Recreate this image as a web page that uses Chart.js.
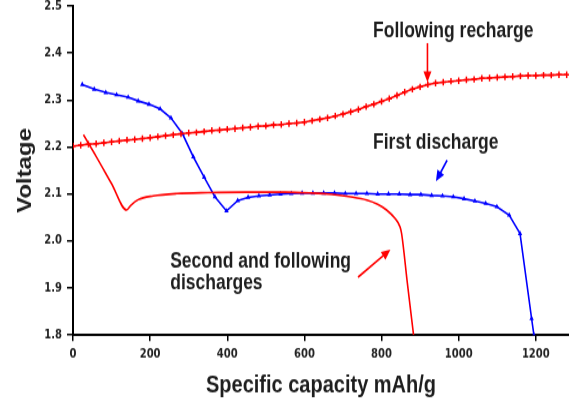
<!DOCTYPE html>
<html>
<head>
<meta charset="utf-8">
<script src="https://cdn.jsdelivr.net/npm/chart.js@4.4.1/dist/chart.umd.min.js"></script>
<style>
    html, body { margin: 0; padding: 0; background: #fff; overflow: hidden; }
    /* the source picture is stretched vertically, so the chart is drawn flat and scaled */
    #wrap { position: absolute; left: 0; top: 0; width: 569px; height: 333px; transform: scaleY(1.2); transform-origin: 0 0; }
</style>
</head>
<body>
<div id="wrap"><canvas id="capacityChart"></canvas></div>
<script>
// --- DATA ---
const xTicks = [0, 200, 400, 600, 800, 1000, 1200];
const yTicks = [1.8, 1.9, 2.0, 2.1, 2.2, 2.3, 2.4, 2.5];

// First discharge (blue)
const firstX = [24, 55, 85, 113, 143, 169, 197, 226, 254, 284, 312, 340, 368, 398, 427, 454, 482, 510, 538, 566,
    594, 622, 650, 678, 706, 734, 762, 790, 818, 846, 874, 902, 930, 958, 986, 1014, 1042, 1070, 1099, 1131,
    1159, 1189, 1195];
const firstY = [2.333, 2.323, 2.316, 2.311, 2.306, 2.298, 2.291, 2.281, 2.262, 2.228, 2.179, 2.136, 2.094, 2.064, 2.086, 2.093, 2.096, 2.098, 2.100, 2.101,
    2.102, 2.102, 2.102, 2.102, 2.101, 2.101, 2.101, 2.100, 2.100, 2.100, 2.099, 2.099, 2.097, 2.096, 2.094, 2.090, 2.085, 2.080, 2.073, 2.055,
    2.016, 1.835, 1.800];

// Following recharge (red, crosses)
const rechargeX = [0, 20, 40, 60, 80, 100, 120, 140, 160, 180, 200, 220, 240, 260, 280, 300, 320, 340, 360, 380,
    400, 420, 440, 460, 480, 500, 520, 540, 560, 580, 600, 620, 640, 660, 680, 700, 720, 740, 760, 780,
    800, 820, 840, 860, 880, 900, 920, 940, 960, 980, 1000, 1020, 1040, 1060, 1080, 1100, 1120, 1140, 1160, 1180,
    1200, 1220, 1240, 1260, 1280];
const rechargeY = [2.202, 2.204, 2.206, 2.207, 2.209, 2.211, 2.213, 2.215, 2.216, 2.218, 2.220, 2.222, 2.224, 2.226, 2.228, 2.230, 2.231, 2.233, 2.235, 2.236,
    2.238, 2.239, 2.241, 2.242, 2.244, 2.245, 2.247, 2.248, 2.250, 2.251, 2.253, 2.256, 2.259, 2.262, 2.266, 2.270, 2.275, 2.280, 2.286, 2.291,
    2.297, 2.303, 2.310, 2.317, 2.323, 2.328, 2.333, 2.336, 2.338, 2.340, 2.341, 2.343, 2.344, 2.346, 2.347, 2.348, 2.349, 2.350, 2.351, 2.352,
    2.352, 2.353, 2.353, 2.354, 2.354];

// Second and following discharges (red, plain line)
const secondX = [27, 60, 100, 139, 150, 169, 208, 269, 350, 450, 550, 618, 673, 720, 762, 790, 813, 835, 848, 852, 867, 883];
const secondY = [2.226, 2.180, 2.122, 2.066, 2.076, 2.088, 2.096, 2.101, 2.103, 2.104, 2.104, 2.102, 2.099, 2.094, 2.087, 2.078, 2.066, 2.048, 2.030, 2.016, 1.910, 1.800];

// --- ANNOTATIONS (in data units) ---
const notes = [
    { text: 'Following recharge', x: 778, y: 2.445 },
    { text: 'First discharge', x: 778, y: 2.209 },
    { text: 'Second and following', x: 252, y: 1.955 },
    { text: 'discharges', x: 252, y: 1.911 }
];
const arrows = [
    { color: '#ff0000', x1: 919, y1: 2.421, x2: 919, y2: 2.338 },
    { color: '#0000ff', x1: 970, y1: 2.172, x2: 941, y2: 2.127 },
    { color: '#ff0000', x1: 739, y1: 1.923, x2: 823, y2: 1.982 }
];

const toPoints = (xs, ys) => xs.map((x, i) => ({ x: x, y: ys[i] }));

function drawArrow(ctx, x1, y1, x2, y2, color) {
    const ang = Math.atan2(y2 - y1, x2 - x1);
    const len = 9, half = 4;
    ctx.strokeStyle = color;
    ctx.fillStyle = color;
    ctx.lineWidth = 1.6;
    ctx.beginPath();
    ctx.moveTo(x1, y1);
    ctx.lineTo(x2 - Math.cos(ang) * len * 0.8, y2 - Math.sin(ang) * len * 0.8);
    ctx.stroke();
    ctx.beginPath();
    ctx.moveTo(x2, y2);
    ctx.lineTo(x2 - Math.cos(ang) * len - Math.sin(ang) * half, y2 - Math.sin(ang) * len + Math.cos(ang) * half);
    ctx.lineTo(x2 - Math.cos(ang) * len + Math.sin(ang) * half, y2 - Math.sin(ang) * len - Math.cos(ang) * half);
    ctx.closePath();
    ctx.fill();
}

const annotationPlugin = {
    id: 'notes',
    afterDatasetsDraw(chart) {
        const { ctx, scales: { x, y } } = chart;
        ctx.save();
        ctx.font = 'bold 17.5px "Liberation Sans", Arial, sans-serif';
        ctx.fillStyle = '#1e1e1e';
        ctx.textAlign = 'left';
        ctx.textBaseline = 'middle';
        notes.forEach(n => ctx.fillText(n.text, x.getPixelForValue(n.x), y.getPixelForValue(n.y)));
        arrows.forEach(a => drawArrow(ctx,
            x.getPixelForValue(a.x1), y.getPixelForValue(a.y1),
            x.getPixelForValue(a.x2), y.getPixelForValue(a.y2), a.color));
        ctx.restore();
    }
};

const tickFont = { family: '"DejaVu Sans", sans-serif', size: 10, weight: 'bold' };
const titleFont = { family: '"Liberation Sans", Arial, sans-serif', size: 20, weight: 'bold', lineHeight: 1.2 };

new Chart(document.getElementById('capacityChart'), {
    type: 'line',
    data: {
        datasets: [
            {
                label: 'Second and following discharges',
                data: toPoints(secondX, secondY),
                borderColor: '#ff0000',
                borderWidth: 1.6,
                pointRadius: 0,
                cubicInterpolationMode: 'monotone'
            },
            {
                label: 'Following recharge',
                data: toPoints(rechargeX, rechargeY),
                borderColor: '#ff0000',
                borderWidth: 1.6,
                pointStyle: 'cross',
                pointRadius: 2.7,
                pointBorderWidth: 1.5,
                pointBorderColor: '#ff0000',
                tension: 0
            },
            {
                label: 'First discharge',
                data: toPoints(firstX, firstY),
                borderColor: '#0000ff',
                borderWidth: 1.6,
                pointStyle: 'triangle',
                pointRadius: 2.6,
                pointBorderWidth: 0,
                pointBackgroundColor: '#0000ff',
                tension: 0
            }
        ]
    },
    plugins: [annotationPlugin],
    options: {
        responsive: true,
        maintainAspectRatio: false,
        animation: false,
        layout: { autoPadding: false, padding: { top: 5, right: 0, bottom: 0, left: 0 } },
        plugins: { legend: { display: false }, tooltip: { enabled: false } },
        scales: {
            x: {
                type: 'linear',
                min: 0,
                max: 1286,
                afterFit: s => { s.height = 53.8; s.paddingLeft = 0; s.paddingRight = 0; },
                afterBuildTicks: s => { s.ticks = xTicks.map(v => ({ value: v })); },
                border: { display: true, color: '#000', width: 2 },
                grid: { display: true, drawOnChartArea: false, drawTicks: true, tickLength: 5, color: '#000', lineWidth: 1.5 },
                ticks: { font: tickFont, color: '#222', padding: 5, callback: v => String(v) },
                title: { display: true, text: 'Specific capacity mAh/g', font: titleFont, color: '#1e1e1e', padding: { top: 0, bottom: 0 } }
            },
            y: {
                type: 'linear',
                min: 1.8,
                max: 2.5,
                afterFit: s => { s.width = 73; s.paddingTop = 0; s.paddingBottom = 0; },
                afterBuildTicks: s => { s.ticks = yTicks.map(v => ({ value: v })); },
                border: { display: true, color: '#000', width: 2 },
                grid: { display: true, drawOnChartArea: false, drawTicks: true, tickLength: 6, color: '#000', lineWidth: 1.5 },
                ticks: { font: tickFont, color: '#222', padding: 5, callback: v => v.toFixed(1) },
                title: { display: true, text: 'Voltage', font: titleFont, color: '#1e1e1e', padding: { top: 13, bottom: 0 } }
            }
        }
    }
});
</script>
</body>
</html>
